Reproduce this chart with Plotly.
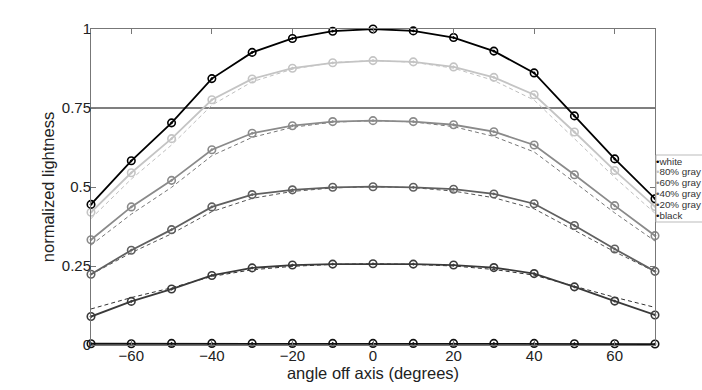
import plotly.graph_objects as go

angles = [-70, -60, -50, -40, -30, -20, -10, 0, 10, 20, 30, 40, 50, 60, 70]

series_names = ["white", "80% gray", "60% gray", "40% gray", "20% gray", "black"]

white = [0.445, 0.583, 0.703, 0.843, 0.926, 0.970, 0.993, 1.000, 0.994, 0.973, 0.930, 0.861, 0.725, 0.589, 0.463]
gray80 = [0.420, 0.545, 0.653, 0.776, 0.842, 0.876, 0.893, 0.900, 0.896, 0.880, 0.847, 0.792, 0.674, 0.552, 0.438]
gray60 = [0.333, 0.437, 0.521, 0.618, 0.670, 0.694, 0.707, 0.710, 0.707, 0.697, 0.675, 0.633, 0.539, 0.441, 0.346]
gray40 = [0.224, 0.300, 0.365, 0.437, 0.476, 0.491, 0.499, 0.501, 0.499, 0.493, 0.478, 0.447, 0.378, 0.304, 0.233]
gray20 = [0.090, 0.138, 0.177, 0.220, 0.244, 0.253, 0.256, 0.257, 0.256, 0.253, 0.245, 0.226, 0.184, 0.139, 0.095]
black = [0.004, 0.004, 0.005, 0.005, 0.005, 0.005, 0.005, 0.005, 0.005, 0.005, 0.005, 0.005, 0.004, 0.004, 0.003]

# dashed reference curves
ref80 = [0.400, 0.525, 0.633, 0.759, 0.833, 0.873, 0.894, 0.900, 0.895, 0.876, 0.837, 0.775, 0.653, 0.530, 0.417]
ref60 = [0.316, 0.414, 0.499, 0.599, 0.657, 0.689, 0.705, 0.710, 0.706, 0.691, 0.660, 0.611, 0.515, 0.418, 0.329]
ref40 = [0.223, 0.292, 0.352, 0.422, 0.464, 0.486, 0.497, 0.501, 0.498, 0.487, 0.466, 0.431, 0.363, 0.295, 0.232]
ref20 = [0.114, 0.150, 0.181, 0.217, 0.238, 0.249, 0.255, 0.257, 0.255, 0.250, 0.239, 0.221, 0.186, 0.151, 0.119]

ref_level = 0.75
x_ticks = [-60, -40, -20, 0, 20, 40, 60]
y_ticks = [0, 0.25, 0.5, 0.75, 1]
y_tick_labels = ["0", "0.25", "0.5", "0.75", "1"]

colors = ["#000000", "#c4c4c4", "#8a8a8a", "#606060", "#3a3a3a", "#111111"]
dash_colors = ["#c0c0c0", "#777777", "#555555", "#333333"]
solid_values = [white, gray80, gray60, gray40, gray20, black]
ref_values = [ref80, ref60, ref40, ref20]

# figure geometry (page margin removed by post script)
W, H = 702, 390
L, R, T, B = 91, 47, 29, 45
PW, PH = W - L - R, H - T - B


def px_x(fx):
    return (fx - L) / PW


def px_y(fy):
    return (H - B - fy) / PH


fig = go.Figure()

for vals, col in zip(ref_values, dash_colors):
    fig.add_trace(go.Scatter(x=angles, y=vals, mode="lines",
                             line=dict(color=col, width=1, dash="4px,3px"),
                             showlegend=False, hoverinfo="skip"))

for name, vals, col in reversed(list(zip(series_names, solid_values, colors))):
    fig.add_trace(go.Scatter(x=angles, y=vals, mode="lines+markers", name=name,
                             line=dict(color=col, width=1.8),
                             marker=dict(symbol="circle-open-dot", size=7.5,
                                         color=col, line=dict(width=1.6, color=col)),
                             cliponaxis=False, showlegend=False))

fig.add_shape(type="line", xref="paper", x0=0, x1=1, yref="y", y0=ref_level, y1=ref_level,
              line=dict(color="#555555", width=1.3), layer="below")

axis_common = dict(showline=True, linecolor="#777777", linewidth=1, mirror="ticks",
                   ticks="inside", ticklen=5, tickcolor="#777777", showgrid=False,
                   zeroline=False, tickfont=dict(family="Liberation Sans", size=15, color="#222222"))

fig.update_xaxes(range=[-70, 70], tickvals=x_ticks, ticklabelstandoff=-3,
                 title=dict(text="angle off axis (degrees)",
                            font=dict(family="Liberation Sans", size=16.5, color="#222222"),
                            standoff=2),
                 **axis_common)
fig.update_yaxes(range=[0, 1], tickvals=y_ticks, ticktext=y_tick_labels, ticklabelstandoff=-4,
                 title=dict(text="normalized lightness",
                            font=dict(family="Liberation Sans", size=16.5, color="#222222"),
                            standoff=3),
                 **axis_common)

# legend drawn as a box with text entries
leg_left, leg_top, leg_bottom = 656, 155, 222
fig.add_shape(type="rect", xref="paper", yref="paper",
              x0=px_x(leg_left), x1=px_x(W + 4),
              y0=px_y(leg_bottom), y1=px_y(leg_top),
              line=dict(color="#bbbbbb", width=1), fillcolor="white", layer="above")
for i, (name, col) in enumerate(zip(series_names, colors)):
    fy = 161 + i * 10.9
    fig.add_annotation(xref="paper", yref="paper",
                       x=px_x(leg_left), y=px_y(fy), xshift=-2,
                       xanchor="left", yanchor="middle", showarrow=False,
                       text=f"<span style='color:{col}'>•</span>{name}",
                       font=dict(family="Liberation Sans", size=9.8, color="#333333"))

fig.update_layout(width=W, height=H,
                  margin=dict(l=L, r=R, t=T, b=B),
                  plot_bgcolor="white", paper_bgcolor="white",
                  showlegend=False)

fig.write_html("out.html", config={"displayModeBar": False},
               post_script="document.body.style.margin='0px';document.body.style.overflow='hidden';")
